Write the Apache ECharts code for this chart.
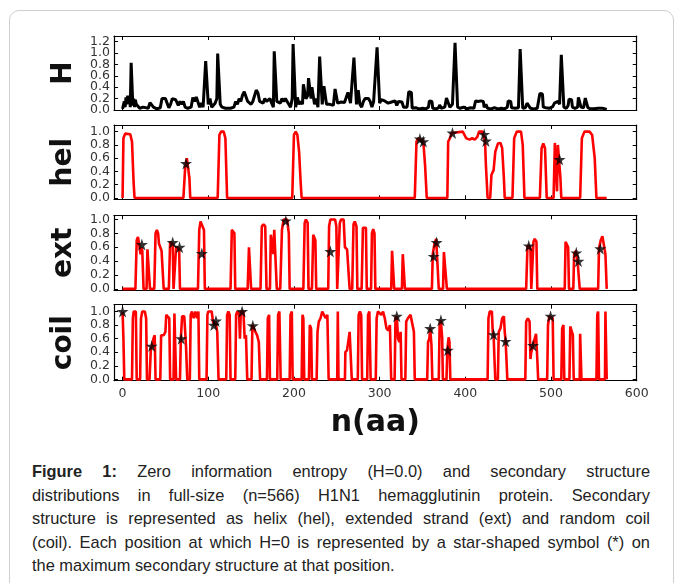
<!DOCTYPE html>
<html>
<head>
<meta charset="utf-8">
<script src="https://cdn.jsdelivr.net/npm/echarts@6/dist/echarts.min.js"></script>
<style>
  body { margin: 0; background: #fff; }
  #frame { position: absolute; left: 9px; top: 10px; width: 663px; height: 620px; border: 1px solid #cfcfcf; border-radius: 10px; }
  #chart { position: absolute; left: 0; top: 0; width: 681px; height: 445px; }
  #caption { position: absolute; left: 32px; top: 460px; width: 618px; font-family: "Liberation Sans", Arial, sans-serif; font-size: 16.4px; line-height: 23.5px; color: #222; }
  #caption .j { text-align: justify; text-align-last: justify; white-space: nowrap; }
</style>
</head>
<body>
<div id="frame"></div>
<div id="chart"></div>
<div id="caption">
  <div class="j"><b>Figure 1:</b> Zero information entropy (H=0.0) and secondary structure</div>
  <div class="j">distributions in full-size (n=566) H1N1 hemagglutinin protein. Secondary</div>
  <div class="j">structure is represented as helix (hel), extended strand (ext) and random coil</div>
  <div class="j">(coil). Each position at which H=0 is represented by a star-shaped symbol (*) on</div>
  <div>the maximum secondary structure at that position.</div>
</div>
<script>
// x ticks shared by all panels
const xTicks = [0, 100, 200, 300, 400, 500, 600];
const hTicks = [0, 0.2, 0.4, 0.6, 0.8, 1.0, 1.2];
const hTicksEven = [0, 0.4, 0.8, 1.2];
const hTicksOdd = [0.2, 0.6, 1.0];
const sTicks = [0, 0.2, 0.4, 0.6, 0.8, 1.0];
const panelNames = ["H", "hel", "ext", "coil"];

// entropy H per position
const hData = [
  [0,0.02],[2,0.15],[3,0.05],[4,0.22],[5,0.1],[6,0.25],[7,0.12],[8,0.24],[9,0.05],[10,0.83],[11,0.82],[12,0.08],[13,0.2],[14,0.05],[15,0.18],[16,0.1],[18,0.12],[20,0.03],[24,0.05],[26,0.02],[30,0.03],[32,0.13],[34,0.15],[36,0.05],[40,0.02],[44,0.04],[46,0.2],[48,0.18],[50,0.2],[52,0.2],[54,0.04],[56,0.1],[58,0.2],[60,0.22],[62,0.18],[64,0.2],[65,0.08],[67,0.15],[69,0.1],[71,0.15],[73,0.05],[76,0.03],[80,0.05],[82,0.22],[84,0.15],[86,0.23],[88,0.2],[90,0.05],[92,0.12],[94,0.05],[96,0.06],[97,0.86],[99,0.85],[100,0.1],[102,0.2],[104,0.05],[106,0.08],[108,0.12],[110,0.2],[111,0.99],[113,0.98],[114,0.1],[116,0.05],[120,0.03],[126,0.03],[130,0.05],[132,0.15],[134,0.1],[136,0.2],[138,0.15],[140,0.26],[142,0.32],[144,0.3],[146,0.15],[148,0.18],[150,0.1],[152,0.15],[154,0.25],[156,0.35],[158,0.3],[160,0.15],[162,0.18],[164,0.12],[166,0.2],[168,0.15],[170,0.18],[172,0.2],[174,0.12],[176,0.05],[177,1.03],[179,1.02],[180,0.15],[182,0.18],[184,0.12],[186,0.2],[188,0.15],[190,0.2],[192,0.18],[194,0.1],[196,0.05],[198,0.2],[199,1.16],[201,1.15],[202,0.05],[204,0.22],[206,0.1],[208,0.15],[210,0.1],[211,0.45],[213,0.44],[214,0.2],[216,0.25],[217,0.56],[219,0.55],[220,0.2],[221,0.4],[223,0.39],[224,0.1],[226,0.2],[228,0.05],[230,0.94],[232,0.93],[233,0.1],[235,0.42],[237,0.4],[238,0.1],[240,0.13],[242,0.1],[244,0.12],[246,0.08],[248,0.37],[250,0.36],[251,0.12],[253,0.15],[255,0.14],[257,0.15],[259,0.13],[261,0.15],[263,0.31],[265,0.3],[266,0.12],[268,0.1],[270,0.92],[272,0.91],[273,0.1],[275,0.35],[276,0.33],[277,0.1],[279,0.05],[281,0.15],[283,0.2],[285,0.23],[287,0.2],[289,0.15],[291,0.05],[293,0.15],[295,0.12],[297,1.1],[299,1.09],[300,0.12],[302,0.18],[304,0.15],[306,0.16],[308,0.18],[310,0.12],[312,0.15],[314,0.14],[316,0.13],[318,0.16],[320,0.08],[322,0.15],[324,0.12],[326,0.14],[328,0.05],[330,0.08],[332,0.05],[334,0.32],[337,0.31],[338,0.03],[342,0.04],[346,0.02],[350,0.03],[354,0.02],[357,0.05],[358,0.16],[361,0.15],[362,0.03],[366,0.02],[369,0.04],[370,0.09],[372,0.03],[376,0.05],[378,0.21],[380,0.2],[382,0.05],[385,0.1],[388,1.18],[390,1.17],[391,0.05],[394,0.03],[398,0.05],[402,0.02],[406,0.04],[410,0.03],[412,0.16],[415,0.15],[416,0.14],[418,0.16],[421,0.15],[422,0.05],[424,0.1],[426,0.03],[430,0.02],[434,0.04],[438,0.02],[442,0.03],[446,0.02],[449,0.05],[450,0.16],[453,0.15],[454,0.04],[458,0.03],[462,0.04],[464,1.07],[466,1.06],[467,0.03],[470,0.04],[472,0.12],[474,0.1],[476,0.03],[480,0.02],[484,0.03],[486,0.05],[487,0.29],[490,0.28],[491,0.05],[494,0.04],[498,0.03],[502,0.06],[504,0.12],[506,0.1],[508,0.15],[510,0.1],[512,0.97],[514,0.96],[515,0.05],[518,0.03],[520,0.08],[521,0.19],[524,0.18],[525,0.05],[528,0.03],[531,0.05],[532,0.22],[534,0.21],[535,0.05],[538,0.04],[540,0.21],[542,0.2],[543,0.04],[546,0.02],[550,0.02],[555,0.03],[560,0.03],[563,0.02],[565,0.01]
];

// helix
const helData = [
  [0,0],[1,0.9],[3,0.97],[9,0.96],[11,0.85],[13,0.2],[14,0],[71,0],[73,0.45],[75,0.6],[76,0.6],[78,0.3],[79,0],
  [111,0],[113,0.95],[115,1.0],[118,1.0],[120,0.9],[122,0],[198,0],[200,0.95],[202,1.0],[204,0.95],[206,0.7],[208,0.2],[209,0],
  [341,0],[343,0.85],[345,0.9],[348,0.88],[351,0.85],[353,0.5],[355,0],
  [379,0],[380,0.85],[382,0.9],[384,0.98],[386,1.0],[397,1.0],[399,0.95],[401,0.9],[405,0.88],[408,0.9],[411,0.88],[414,0.92],[416,1.0],[420,1.0],[421,0.95],[423,0.86],[424,0.5],[426,0],
  [429,0],[430.5,0.35],[433,0.42],[435,0.7],[438,0.82],[441,0.83],[443,0.75],[445,0.3],[446,0],
  [455,0],[457,0.9],[460,1.0],[465,1.0],[467,0.8],[469,0],[487,0],[489,0.75],[491,0.82],[493,0.75],[495,0],
  [503,0],[504.5,0.83],[506,0.8],[507,0.1],[508,0.8],[509,0.78],[511,0.3],[512,0],
  [534,0],[536,0.9],[539,1.0],[545,1.0],[548,0.95],[551,0.6],[553,0],[565,0]
];
const helStars = [[74,0.52],[347,0.89],[351,0.85],[385,0.98],[422,0.96],[424,0.86],[510,0.58]];

// extended strand
const extData = [
  [0,0],[15,0],[16.5,0.7],[18,0.75],[20,0.73],[21,0.5],[22,0.6],[23,0.55],[24.5,0],
  [28,0],[29,0.57],[31,0.57],[32,0],[37,0],[38.5,0.8],[40,0.85],[41.5,0.8],[42.5,0.65],[44,0.63],[45.5,0.55],[47,0.53],[48,0],
  [54,0],[55.5,0.68],[57,0.7],[58.5,0.65],[59.5,0],[61,0],[62.5,0.6],[64,0.62],[66,0.58],[67,0],
  [88,0],[89.5,0.85],[91,0.97],[93,0.97],[95,0.85],[96,0],[126,0],[127.5,0.85],[129,0.87],[130.5,0.8],[131.5,0],
  [146,0],[147.5,0.6],[149,0.6],[150,0],[161,0],[162.5,0.9],[164.5,0.93],[166.5,0.9],[168,0],
  [172,0],[173,0.78],[175,0.8],[176,0.5],[177,0.85],[179,0.87],[180,0],[184,0],[186,0.85],[188,1.0],[192,1.0],[194,0.8],[195,0],
  [211,0],[212.5,0.95],[214,1.0],[216,0.95],[217,0],[221,0],[222.5,0.78],[224,0.8],[225,0.7],[226,0],
  [240,0],[241,0.9],[242.5,1.0],[248,1.0],[249.5,0.9],[250.5,0],[252,0],[253.5,0.95],[255,1.0],[258,1.0],[259.5,0.6],[262,0.57],[264,0.57],[265,0],
  [268,0],[269.5,0.93],[271,0.97],[273,0.9],[274,0],[279,0],[280.5,0.88],[282,0.9],[284,0.88],[285,0],
  [290,0],[291,0.8],[292.5,0.86],[294,0.8],[295,0],[313.5,0],[314.5,0.55],[316,0.57],[317,0],[326,0],[327,0.5],[328.5,0.5],[329.5,0],
  [361,0],[362,0.5],[364,0.65],[366,0.72],[367.5,0.7],[369,0],[374,0],[375,0.53],[377,0.55],[378.5,0],
  [471,0],[472.5,0.6],[474,0.63],[476,0.58],[477,0],[478.5,0],[479.5,0.68],[481,0.72],[483,0.68],[484,0],
  [516,0],[517,0.68],[518.5,0.7],[520,0.6],[521,0],[526,0],[527,0.5],[529,0.55],[530,0.55],[531,0.4],[532.5,0.38],[533.5,0],
  [555,0],[556,0.58],[558,0.7],[560,0.76],[562,0.76],[563.5,0.5],[565,0]
];
const extStars = [[22.5,0.64],[58.5,0.67],[66.5,0.6],[92.5,0.51],[190.5,0.98],[242.5,0.54],[363,0.47],[366.5,0.67],[474,0.62],[529.5,0.52],[532,0.4],[557.5,0.58]];

// random coil
const coilData = [
  [0,1.0],[1,0.6],[2,0],[11,0],[12,0.9],[13,1.0],[15.5,1.0],[16.5,0],[20.5,0],[21.5,0.9],[23,1.0],[26,1.0],[27.5,0.9],[28.5,0],[31.5,0],[33,0.45],[34.5,0.5],[36,0.6],[37.5,0.65],[38.5,0],
  [44,0],[45,0.65],[48,0.65],[50,0.7],[51,0.95],[53,0.97],[54.5,0.9],[55.5,0],[59.5,0],[60.5,0.97],[61.5,0.97],[62.5,0],[67,0],[68,0.6],[69.5,0.93],[72,0.93],[74,0.5],[75.5,0],[78.5,0],[79.5,0.95],[81,1.0],[83,0.9],[85,1.0],[87,0.9],[88.5,1.0],[89.5,0],
  [98,0],[99,0.95],[100,1.0],[104,1.0],[105.5,0.85],[107,0.8],[108.5,0.85],[109.5,0.87],[110.5,0.7],[112,0],[121,0],[122,0.95],[123.5,1.0],[125,0.95],[126,0],[131.5,0],[132.5,0.95],[134,1.0],[136,0.95],[137,0.6],[138,1.0],[141,1.0],[142.5,0.6],[144,0.65],[145.5,0],[150.5,0],[151.5,0.8],[153,0.8],[155,0.7],[157,0.65],[159,0.55],[160.5,0],
  [168.5,0],[169.5,0.9],[171,0.95],[172,0],[180.5,0],[181.5,0.95],[183,1.0],[184.5,0],[195,0],[196,0.95],[197.5,1.0],[198.5,0],[209,0],[210,0.95],[211,0.9],[212,0],[217.5,0],[218.5,0.8],[220,0.75],[221,0],[226.5,0],[227.5,0.7],[229,0.85],[231,0.9],[233,1.0],[235,0.95],[237,0.9],[239,0.95],[240.5,0],
  [250.5,0],[251.2,1.0],[252,0],[259.5,0],[260,0.4],[262,0.43],[264,0.45],[265,0.7],[266,0.7],[267.5,0],[274.5,0],[275.5,0.95],[277,1.0],[278.5,0.95],[279.5,0],[285.5,0],[286.5,0.95],[288,1.0],[289.5,0],[295.5,0],[296.5,0.9],[298,1.0],[300,1.0],[302,0.95],[304,1.0],[306,0.9],[308,0.75],[310,0.72],[312,0.8],[313.5,0],[317.5,0],[318.5,0.9],[320,0.93],[321.5,0.6],[323,0.55],[324.5,0.7],[325.5,0],[330,0],[331,0.85],[333,0.9],[336,0.95],[338,0.93],[340,0.7],[341,0],
  [355.5,0],[356.5,0.55],[358,0.6],[359,0.75],[360.5,0.5],[361.5,0],[369,0],[370,0.8],[371.5,0.87],[373,0.6],[373.8,0],[378,0],[379,0.43],[380.5,0.62],[381.5,0.55],[382.5,0],
  [426,0],[427,0.9],[428.5,1.0],[431,1.0],[432,0.7],[433,0.66],[434,0.3],[435,0],[438,0],[439,0.7],[441,0.75],[443,0.9],[445,0.93],[446,0.7],[447,0.57],[448,0.3],[449,0],[470,0],[471,0.85],[473,0.9],[475,0.85],[476,0.3],[477,0.4],[479,0.5],[481,0.6],[482.5,0.67],[484,0.3],[485,0],
  [495.5,0],[496.5,0.8],[498,0.93],[500,0.95],[502,0.9],[503,0],[512,0],[513,0.75],[514.5,0.8],[515.5,0],[521.5,0],[522.5,0.78],[524,0.8],[525.5,0.65],[526.5,0],[533.5,0],[534,0.67],[535,0.65],[535.5,0],[553,0],[554,0.95],[555,1.0],[556,0],[563,0],[563.5,1.0],[564.5,1.0],[565,0]
];
const coilStars = [[0,1.0],[34,0.49],[68.5,0.6],[106.5,0.8],[109,0.86],[139.5,1.0],[152,0.79],[320,0.93],[359,0.75],[371.5,0.87],[379.5,0.43],[433,0.66],[447,0.56],[479,0.5],[499.5,0.93]];

const star = "path://M50,0 L61,35 L98,35 L68,57 L79,91 L50,70 L21,91 L32,57 L2,35 L39,35 Z";
const font = "DejaVu Sans";

// grid geometry
const grids = [
  { left: 114, width: 522.7, top: 36, height: 74 },
  { left: 114, width: 522.7, top: 125, height: 74.3 },
  { left: 114, width: 522.7, top: 215.3, height: 75 },
  { left: 114, width: 522.7, top: 304.7, height: 76 },
];
const yRanges = [[0, 1.3], [-0.02, 1.1], [-0.02, 1.06], [-0.02, 1.1]];
const labelStyle = { color: "#333", fontFamily: font, fontSize: 12.5, showMinLabel: true, showMaxLabel: true, hideOverlap: false };

const xAxes = [];
const yAxes = [];
grids.forEach((g, i) => {
  ["bottom", "top"].forEach((pos) => {
    const showLab = pos === "bottom" && i === 3;
    xAxes.push({
      gridIndex: i, type: "value", position: pos, min: -10, max: 600,
      axisLine: { show: true, onZero: false, lineStyle: { color: "#000", width: 1.2 } },
      axisTick: { show: true, inside: true, length: 4, customValues: xTicks, lineStyle: { color: "#000" } },
      axisLabel: Object.assign({ show: showLab, customValues: xTicks, margin: 7 }, labelStyle),
      splitLine: { show: false },
      name: showLab ? "n(aa)" : "",
      nameLocation: "middle", nameGap: 28,
      nameTextStyle: { fontSize: 30, fontWeight: "bold", color: "#111", fontFamily: font },
    });
  });
  ["left", "right"].forEach((pos) => {
    const ticks = i === 0 ? hTicks : sTicks;
    const labs = i === 0 ? hTicksEven : sTicks;
    yAxes.push({
      gridIndex: i, type: "value", position: pos, min: yRanges[i][0], max: yRanges[i][1],
      axisLine: { show: true, onZero: false, lineStyle: { color: "#000", width: 1.2 } },
      axisTick: { show: true, inside: true, length: 4, customValues: ticks, lineStyle: { color: "#000" } },
      axisLabel: Object.assign({ show: pos === "left", customValues: labs, margin: 4, formatter: (v) => v.toFixed(1) }, labelStyle),
      splitLine: { show: false },
      name: pos === "left" ? panelNames[i] : "",
      nameLocation: "middle", nameGap: 36, nameRotate: 90,
      nameTextStyle: { fontSize: 28, fontWeight: "bold", color: "#111", fontFamily: font },
    });
  });
});
// H panel labels are crowded in the original: second label-only axis for the odd ticks
yAxes.push({
  gridIndex: 0, type: "value", position: "left", min: yRanges[0][0], max: yRanges[0][1],
  axisLine: { show: false }, axisTick: { show: false }, splitLine: { show: false },
  axisLabel: Object.assign({ customValues: hTicksOdd, margin: 4, formatter: (v) => v.toFixed(1) }, labelStyle),
});

function lineSeries(data, panel, color, width) {
  return {
    type: "line", data: data, xAxisIndex: panel * 2, yAxisIndex: panel * 2,
    showSymbol: false, lineStyle: { color: color, width: width }, silent: true, animation: false,
  };
}
function starSeries(data, panel) {
  return {
    type: "scatter", data: data, xAxisIndex: panel * 2, yAxisIndex: panel * 2,
    symbol: star, symbolSize: 12, itemStyle: { color: "#000" }, silent: true, animation: false, z: 5,
  };
}

const chart = echarts.init(document.getElementById("chart"));
chart.setOption({
  animation: false,
  grid: grids,
  xAxis: xAxes,
  yAxis: yAxes,
  series: [
    lineSeries(hData, 0, "#000", 3),
    lineSeries(helData, 1, "#ff0000", 2.6),
    starSeries(helStars, 1),
    lineSeries(extData, 2, "#ff0000", 2.6),
    starSeries(extStars, 2),
    lineSeries(coilData, 3, "#ff0000", 2.6),
    starSeries(coilStars, 3),
  ],
});
</script>
</body>
</html>
